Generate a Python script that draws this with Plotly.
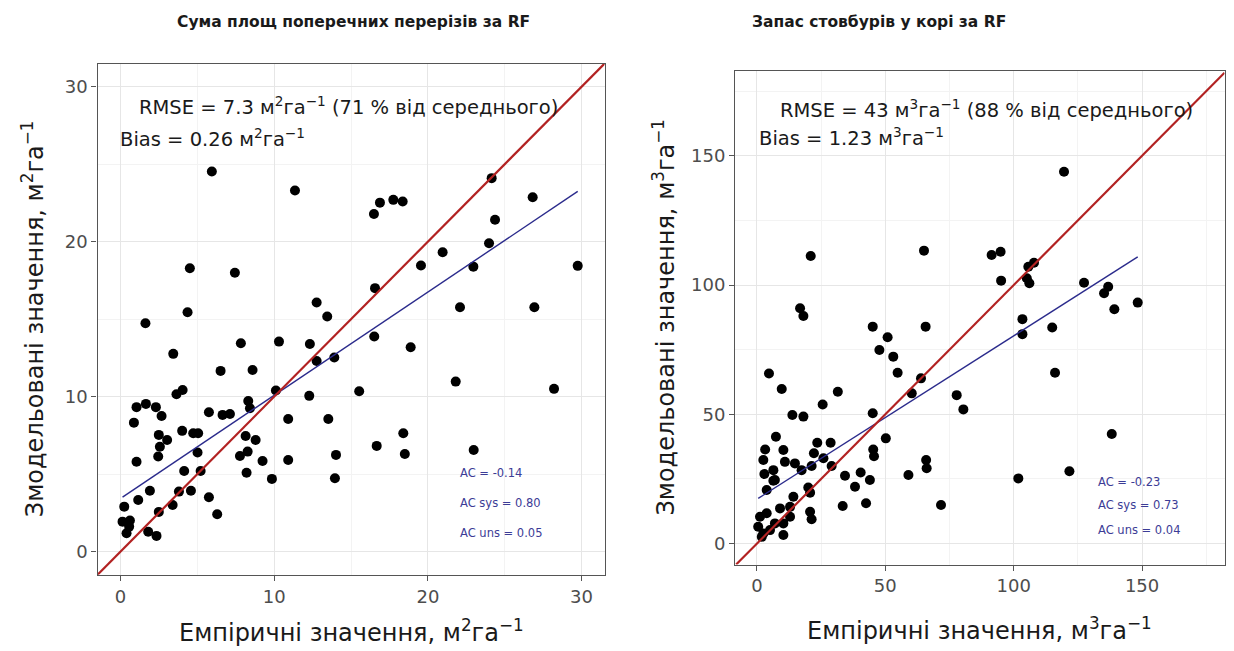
import plotly.graph_objects as go

# ---- Basal area (m2/ha): observed vs RF-predicted ----
ba_obs = [5.94, 11.35, 4.51, 7.44, 4.36, 12.76, 1.62, 13.45, 7.83, 10.31, 12.32, 3.43,
          6.51, 8.59, 12.76, 13.91, 16.51, 3.64, 4.04, 10.11, 12.28, 15.53, 1.04, 1.65,
          2.30, 2.67, 0.87, 5.75, 6.64, 7.12, 8.31, 8.42, 10.91, 13.52, 2.49, 3.03,
          2.56, 4.01, 4.73, 5.05, 8.14, 8.79, 2.45, 5.01, 7.77, 8.27, 9.24, 10.91,
          14.02, 16.67, 1.04, 4.14, 5.21, 8.20, 9.85, 13.95, 0.24, 1.15, 1.91, 3.80,
          4.58, 3.39, 2.49, 5.75, 6.29, 0.13, 0.61, 0.39, 0.56, 1.80, 2.34, 16.49,
          16.88, 17.75, 18.36, 24.15, 26.82, 24.37, 23.98, 20.96, 19.55, 22.96, 29.75,
          16.56, 22.09, 26.93, 18.88, 21.81, 28.21, 18.40, 18.50, 22.98]
ba_pred = [24.53, 23.30, 18.29, 18.00, 15.45, 16.07, 14.74, 15.17, 13.45, 13.55, 13.40, 12.76,
           11.66, 11.72, 12.30, 12.52, 13.88, 10.15, 10.43, 10.39, 10.05, 10.35, 9.32, 9.53,
           9.32, 8.75, 8.32, 8.99, 8.82, 8.88, 9.72, 9.25, 8.56, 8.56, 7.53, 7.20,
           6.77, 7.79, 7.64, 7.64, 7.46, 7.20, 6.13, 6.39, 6.17, 6.45, 5.85, 5.91,
           6.24, 6.82, 5.80, 5.20, 5.20, 5.09, 4.69, 4.73, 2.90, 3.33, 3.93, 3.87,
           3.93, 3.01, 2.56, 3.50, 2.41, 1.93, 2.00, 1.18, 1.61, 1.28, 1.01, 21.79,
           22.52, 22.70, 22.59, 24.10, 22.87, 21.41, 19.90, 19.32, 18.46, 18.39, 18.44,
           17.00, 15.77, 15.77, 13.19, 10.97, 10.50, 7.64, 6.30, 6.55]
ba_fit = [3.43, 0.666]          # intercept, slope of the linear fit
ba_stats = ["RMSE = 7.3 м<sup>2</sup>га<sup>−1</sup> (71 % від середнього)",
            "Bias = 0.26 м<sup>2</sup>га<sup>−1</sup>"]
ba_ac = ["AC = -0.14", "AC sys = 0.80", "AC uns = 0.05"]
ba_ticks = [0, 10, 20, 30]

# ---- Growing stock over bark (m3/ha): observed vs RF-predicted ----
gs_obs = [20.95, 65.07, 91.4, 94.9, 95.1, 16.8, 18.1, 45.1, 65.7, 50.9, 47.7, 53.1,
          54.8, 4.7, 9.66, 31.5, 25.6, 13.8, 18.1, 45.1, 63.9, 60.3, 77.8, 80.4,
          50.2, 45.3, 45.6, 7.4, 3.2, 10.3, 2.5, 23.5, 28.7, 22.2, 10.9, 14.8,
          6.4, 2.9, 7.0, 17.4, 21.3, 25.9, 29.1, 34.3, 40.4, 44.0, 38.2, 59.0,
          65.9, 66.1, 71.7, 33.4, 42.5, 20.0, 20.7, 14.2, 12.9, 9.0, 20.7, 21.3,
          1.2, 3.8, 0.5, 2.5, 7.0, 10.3, 10.3, 12.9, 5.1, 1.9, 3.8, 6.4,
          119.6, 105.7, 107.9, 106.1, 105.1, 127.4, 136.8, 135.2, 139.2, 148.3, 103.4,
          103.4, 115.0, 116.1, 138.2, 101.8, 121.7]
gs_pred = [111.2, 113.3, 111.6, 112.9, 101.7, 91.0, 88.0, 83.9, 83.9, 79.8, 74.9, 72.3,
           66.1, 65.8, 59.8, 58.7, 53.8, 49.7, 49.1, 50.4, 63.9, 58.1, 57.4, 51.9,
           40.7, 36.4, 33.8, 41.3, 36.4, 36.2, 32.3, 39.0, 39.0, 34.9, 31.6, 31.0,
           28.4, 26.9, 24.6, 28.4, 30.0, 33.0, 30.0, 26.2, 27.5, 24.6, 22.0, 26.5,
           32.3, 29.1, 14.9, 14.5, 15.6, 21.7, 19.7, 18.1, 14.2, 13.6, 12.3, 9.4,
           10.4, 11.7, 6.5, 3.9, 7.8, 3.3, 7.8, 10.4, 5.2, 2.6, 20.7, 24.3,
           143.8, 107.1, 108.6, 100.7, 102.6, 100.9, 99.3, 96.8, 90.6, 93.2, 86.8,
           81.0, 83.6, 66.1, 42.4, 25.2, 28.0]
gs_fit = [17.15, 0.632]
gs_stats = ["RMSE = 43 м<sup>3</sup>га<sup>−1</sup> (88 % від середнього)",
            "Bias = 1.23 м<sup>3</sup>га<sup>−1</sup>"]
gs_ac = ["AC = -0.23", "AC sys = 0.73", "AC uns = 0.04"]
gs_ticks = [0, 50, 100, 150]

titles = ["Сума площ поперечних перерізів за RF", "Запас стовбурів у корі за RF"]
x_titles = ["Емпіричні значення, м<sup>2</sup>га<sup>−1</sup>",
            "Емпіричні значення, м<sup>3</sup>га<sup>−1</sup>"]
y_titles = ["Змодельовані значення, м<sup>2</sup>га<sup>−1</sup>",
            "Змодельовані значення, м<sup>3</sup>га<sup>−1</sup>"]

W, H = 1234, 651
FONT = "DejaVu Sans"
RED = "#b22222"
BLUE = "#2b2b8c"
AC_COL = "#3c3c96"

# panel geometry (pixels) and axis ranges
panels = [
    dict(obs=ba_obs, pred=ba_pred, fit=ba_fit, stats=ba_stats, ac=ba_ac, ticks=ba_ticks,
         minor=5, px=(97.5, 604.6), py=(63.5, 574.8), xr=[-1.5, 31.5], yr=[-1.5, 31.5],
         stat_xy=[(1.04, 28.77), (-0.16, 26.7)], ac_x=21.98, ac_y=[5.05, 3.12, 1.18],
         title_px=(175, 21.7), xt_py=631, yt_px=33),
    dict(obs=gs_obs, pred=gs_pred, fit=gs_fit, stats=gs_stats, ac=gs_ac, ticks=gs_ticks,
         minor=25, px=(735.1, 1224.5), py=(70.7, 564.5), xr=[-8.5, 182.1], yr=[-8.1, 182.9],
         stat_xy=[(8.3, 168.0), (0.0, 157.4)], ac_x=132.0, ac_y=[23.9, 14.9, 5.2],
         title_px=(750, 21.7), xt_py=628.5, yt_px=664),
]

fig = go.Figure()
annotations = []
shapes = []
layout_axes = {}

for i, p in enumerate(panels):
    n = "" if i == 0 else str(i + 1)
    xa, ya = "x" + n, "y" + n
    # observations
    fig.add_trace(go.Scatter(x=p["obs"], y=p["pred"], mode="markers", xaxis=xa, yaxis=ya,
                             marker=dict(color="black", size=10, line=dict(width=0)),
                             showlegend=False, hoverinfo="x+y"))
    # fitted regression line over the observed range
    x0, x1 = min(p["obs"]), max(p["obs"])
    b0, b1 = p["fit"]
    fig.add_trace(go.Scatter(x=[x0, x1], y=[b0 + b1 * x0, b0 + b1 * x1], mode="lines",
                             xaxis=xa, yaxis=ya, line=dict(color=BLUE, width=1.4),
                             showlegend=False, hoverinfo="skip"))
    # 1:1 line across the panel
    lo = max(p["xr"][0], p["yr"][0])
    hi = min(p["xr"][1], p["yr"][1])
    fig.add_trace(go.Scatter(x=[lo, hi], y=[lo, hi], mode="lines", xaxis=xa, yaxis=ya,
                             line=dict(color=RED, width=2.2), showlegend=False,
                             hoverinfo="skip"))

    common = dict(showline=True, mirror=True, linecolor="#555555", linewidth=1.3,
                  ticks="outside", ticklen=5, tickcolor="#555555", tickwidth=1.2,
                  tickvals=p["ticks"], tickfont=dict(family=FONT, size=18, color="#4d4d4d"),
                  showgrid=True, gridcolor="#e6e6e6", gridwidth=1.1, zeroline=False,
                  minor=dict(dtick=p["minor"], tick0=p["minor"], showgrid=True,
                             gridcolor="#f3f3f3", gridwidth=0.7, ticks=""))
    layout_axes["xaxis" + n] = dict(common, range=p["xr"], anchor=ya,
                                    domain=[p["px"][0] / W, p["px"][1] / W])
    layout_axes["yaxis" + n] = dict(common, range=p["yr"], anchor=xa,
                                    domain=[1 - p["py"][1] / H, 1 - p["py"][0] / H])

    # RMSE / bias text
    for txt, (tx, ty) in zip(p["stats"], p["stat_xy"]):
        annotations.append(dict(text=txt, x=tx, y=ty, xref=xa, yref=ya, xanchor="left",
                                yanchor="middle", showarrow=False,
                                font=dict(family=FONT, size=19.5, color="#1a1a1a")))
    # agreement coefficients
    for txt, ty in zip(p["ac"], p["ac_y"]):
        annotations.append(dict(text=txt, x=p["ac_x"], y=ty, xref=xa, yref=ya,
                                xanchor="left", yanchor="middle", showarrow=False,
                                font=dict(family=FONT, size=11.5, color=AC_COL)))
    # panel title
    annotations.append(dict(text="<b>" + titles[i] + "</b>", x=p["title_px"][0] / W,
                            y=1 - p["title_px"][1] / H, xref="paper", yref="paper",
                            xanchor="left", yanchor="middle", showarrow=False,
                            font=dict(family=FONT, size=15.5, color="#1a1a1a")))
    # axis titles
    annotations.append(dict(text=x_titles[i], x=(p["px"][0] + p["px"][1]) / 2 / W,
                            y=1 - p["xt_py"] / H, xref="paper", yref="paper",
                            xanchor="center", yanchor="middle", showarrow=False,
                            font=dict(family=FONT, size=24, color="#1a1a1a")))
    annotations.append(dict(text=y_titles[i], x=p["yt_px"] / W,
                            y=1 - (p["py"][0] + p["py"][1]) / 2 / H, xref="paper",
                            yref="paper", xanchor="center", yanchor="middle",
                            textangle=-90, showarrow=False,
                            font=dict(family=FONT, size=24, color="#1a1a1a")))

fig.update_layout(width=W, height=H, margin=dict(l=0, r=0, t=0, b=0),
                  paper_bgcolor="white", plot_bgcolor="white",
                  annotations=annotations, showlegend=False, **layout_axes)

fig.write_html("out.html")
